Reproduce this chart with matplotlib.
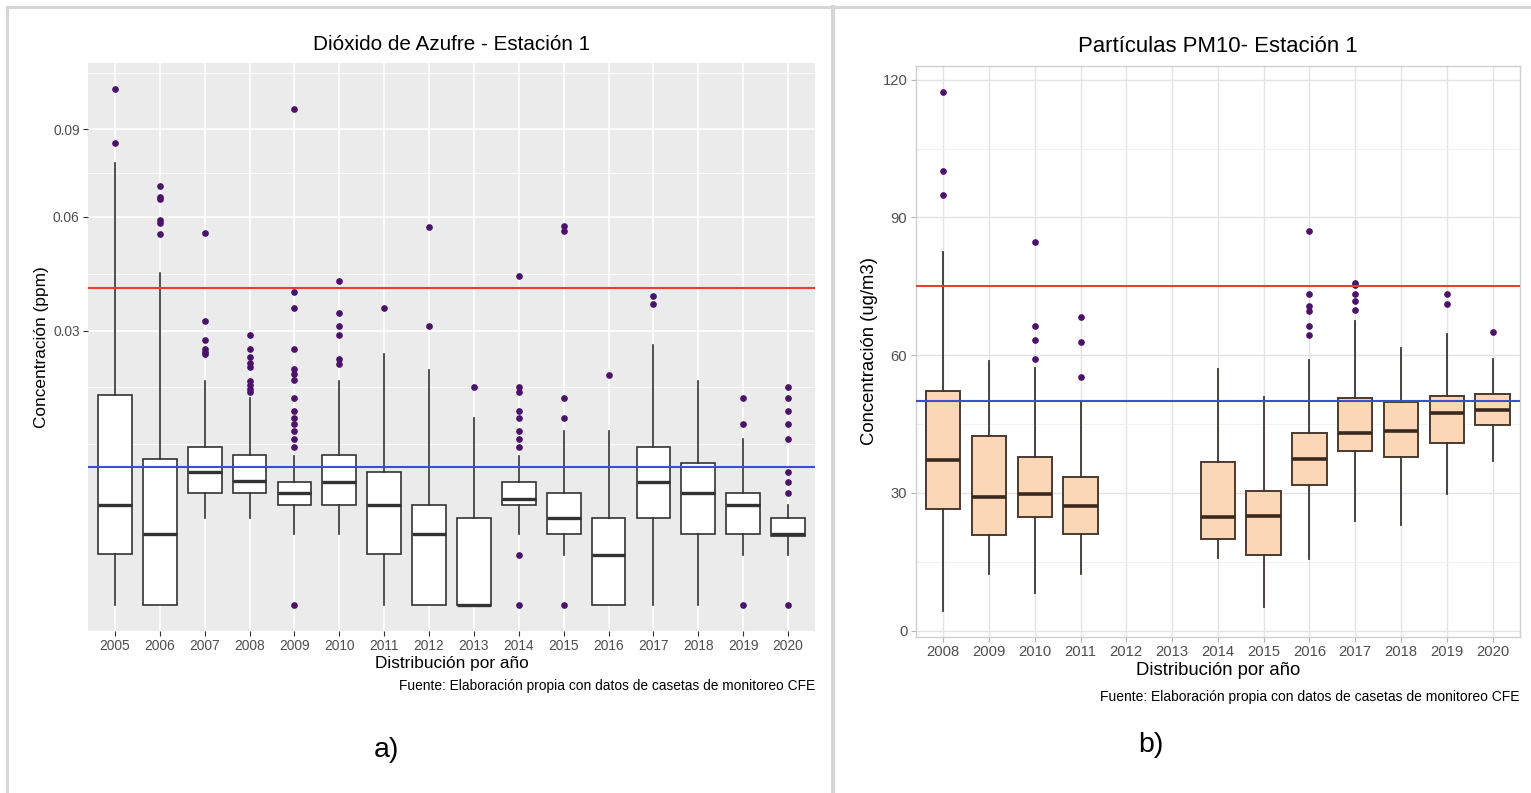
import numpy as np
import matplotlib
matplotlib.use('Agg')
import matplotlib.pyplot as plt
from matplotlib.lines import Line2D

plt.rcParams['font.family'] = ['Liberation Sans', 'DejaVu Sans']

# Dióxido de azufre (ppm) - estación 1
so2_years = ['2005', '2006', '2007', '2008', '2009', '2010', '2011', '2012',
             '2013', '2014', '2015', '2016', '2017', '2018', '2019', '2020']
so2_q1 = [0.00103, 0.0, 0.0050, 0.0050, 0.0040, 0.0040, 0.00103, 0.0,
          0.0, 0.0040, 0.0020, 0.0, 0.0030, 0.0020, 0.0020, 0.0019]
so2_med = [0.0040, 0.0020, 0.0070, 0.0061, 0.0050, 0.0060, 0.0040, 0.0020,
           0.0, 0.0045, 0.0030, 0.0010, 0.0060, 0.0050, 0.0040, 0.0020]
so2_q3 = [0.0175, 0.0085, 0.0100, 0.0090, 0.0060, 0.0090, 0.0070, 0.0040,
          0.0030, 0.0060, 0.0050, 0.0030, 0.0100, 0.0080, 0.0050, 0.0030]
so2_lo = [0.0, 0.0, 0.0030, 0.0030, 0.0020, 0.0020, 0.0, 0.0,
          0.0, 0.0020, 0.0010, 0.0, 0.0, 0.0, 0.0010, 0.0010]
so2_hi = [0.0778, 0.0439, 0.0200, 0.0170, 0.0089, 0.0200, 0.0250, 0.0220,
          0.0139, 0.0089, 0.0120, 0.0120, 0.0270, 0.0200, 0.0110, 0.0040]
so2_out = [
    [0.106, 0.085],
    [0.0700, 0.0664, 0.0657, 0.0591, 0.0582, 0.0549],
    [0.055, 0.032, 0.028, 0.026, 0.0255, 0.025],
    [0.029, 0.026, 0.0244, 0.0234, 0.0225, 0.020, 0.0192, 0.0185, 0.018],
    [0.098, 0.0389, 0.035, 0.026, 0.0221, 0.0212, 0.0201, 0.017, 0.015,
     0.014, 0.0131, 0.012, 0.011, 0.010, 0.0],
    [0.0419, 0.034, 0.031, 0.029, 0.0241, 0.0232],
    [0.035],
    [0.057, 0.031],
    [0.019],
    [0.043, 0.019, 0.018, 0.015, 0.014, 0.012, 0.011, 0.010, 0.001, 0.0],
    [0.0572, 0.0558, 0.017, 0.014, 0.0],
    [0.021],
    [0.038, 0.036],
    [],
    [0.017, 0.013, 0.0],
    [0.019, 0.017, 0.015, 0.013, 0.011, 0.007, 0.006, 0.005, 0.0],
]
so2_limit_red = 0.040
so2_limit_blue = 0.0076
so2_ticks = [0.03, 0.06, 0.09]

# Partículas PM10 (ug/m3) - estación 1
pm_years = ['2008', '2009', '2010', '2011', '2012', '2013', '2014',
            '2015', '2016', '2017', '2018', '2019', '2020']
pm_q1 = [26.6, 20.8, 24.8, 21.1, None, None, 20.0, 16.5, 31.8, 39.1, 37.8, 40.8, 44.7]
pm_med = [37.2, 29.2, 29.8, 27.2, None, None, 24.7, 25.0, 37.3, 43.1, 43.4, 47.4, 48.1]
pm_q3 = [52.3, 42.4, 37.8, 33.4, None, None, 36.7, 30.5, 43.0, 50.7, 49.9, 51.2, 51.5]
pm_lo = [4.4, 12.3, 8.3, 12.3, None, None, 15.8, 5.1, 15.6, 24.0, 23.1, 29.8, 37.0]
pm_hi = [82.5, 58.7, 57.2, 50.1, None, None, 57.0, 51.0, 59.0, 67.4, 61.5, 64.6, 59.1]
pm_out = [
    [117.4, 100.2, 95.0],
    [],
    [84.7, 66.4, 63.3, 59.1],
    [68.4, 62.9, 55.3],
    [], [],
    [],
    [],
    [87.0, 73.4, 70.7, 69.7, 66.3, 64.5],
    [75.8, 75.2, 73.3, 71.9, 69.8],
    [],
    [73.3, 71.2],
    [65.0],
]
pm_limit_red = 75
pm_limit_blue = 50
pm_ticks = [0, 30, 60, 90, 120]

W, H = 1531, 793
fig = plt.figure(figsize=(W / 100, H / 100), dpi=100)
fig.patch.set_facecolor('white')


def px_rect(x0, y0, x1, y1):
    return [x0 / W, 1 - y1 / H, (x1 - x0) / W, (y1 - y0) / H]


# gray frame of the picture and divider between panels
fig.add_artist(Line2D([7 / W, 7 / W], [0, 1 - 7 / H], color='#d6d6d6', lw=2.2))
fig.add_artist(Line2D([7 / W, 1], [1 - 7 / H, 1 - 7 / H], color='#d6d6d6', lw=2.2))
fig.add_artist(Line2D([833 / W, 833 / W], [0, 1 - 7 / H], color='#d6d6d6', lw=3))


def make_stats(q1, med, q3, lo, hi, out):
    stats, pos = [], []
    for i in range(len(q1)):
        if q1[i] is None:
            continue
        stats.append(dict(q1=q1[i], med=med[i], q3=q3[i], whislo=lo[i],
                          whishi=hi[i], fliers=out[i]))
        pos.append(i + 1)
    return stats, pos


# ---------------- a) dióxido de azufre ----------------
ax1 = fig.add_axes(px_rect(88, 63, 815, 631))
fwd = lambda v: np.sign(v) * np.sqrt(np.abs(v))
inv = lambda v: np.sign(v) * v ** 2
ax1.set_yscale('function', functions=(fwd, inv))
ax1.set_facecolor('#ebebeb')

stats, pos = make_stats(so2_q1, so2_med, so2_q3, so2_lo, so2_hi, so2_out)
ax1.bxp(stats, positions=pos, widths=0.75, patch_artist=True, showcaps=False,
        boxprops=dict(facecolor='white', edgecolor='#333333', linewidth=1.2),
        whiskerprops=dict(color='#333333', linewidth=1.2),
        medianprops=dict(color='#333333', linewidth=2.4),
        flierprops=dict(marker='o', markerfacecolor='#4a1268', markeredgecolor='#4a1268',
                        markersize=3.8, linestyle='none'),
        zorder=3)
ax1.axhline(so2_limit_red, color='#f03c30', lw=1.5, zorder=4)
ax1.axhline(so2_limit_blue, color='#3a4fd2', lw=1.5, zorder=4)

ax1.set_xlim(0.4, len(so2_years) + 0.6)
ax1.set_ylim(-0.0163 ** 2, 0.3419 ** 2)
ax1.set_xticks(range(1, len(so2_years) + 1))
ax1.set_xticklabels(so2_years)
ax1.set_yticks(so2_ticks)
ax1.set_yticklabels(['%.2f' % t for t in so2_ticks])
# minor breaks halfway between major breaks in sqrt space
s = np.sqrt(so2_ticks)
step = s[1] - s[0]
s_ext = np.concatenate([[s[0] - step], s, [s[-1] + step]])
minor = (s_ext[:-1] + s_ext[1:]) / 2
minor = np.concatenate([[s[0] - step], minor])
ax1.set_yticks(inv(minor), minor=True)
ax1.tick_params(axis='y', which='minor', length=0)
ax1.grid(True, which='major', color='white', lw=1.2, zorder=0)
ax1.grid(True, which='minor', axis='y', color='white', lw=0.6, zorder=0)
ax1.set_axisbelow(True)
for sp in ax1.spines.values():
    sp.set_visible(False)
ax1.tick_params(axis='both', which='major', colors='#333333', length=3.5, width=0.8,
                labelsize=9.9, labelcolor='#4d4d4d', pad=2.5)
ax1.set_title('Dióxido de Azufre - Estación 1', fontsize=14.9, pad=9)
ax1.set_xlabel('Distribución por año', fontsize=12.4, labelpad=2)
ax1.set_ylabel('Concentración (ppm)', fontsize=12.4, labelpad=3)
fig.text(815 / W, 1 - 686 / H, 'Fuente: Elaboración propia con datos de casetas de monitoreo CFE',
         ha='right', va='center', fontsize=9.9)
fig.text(386 / W, 1 - 750 / H, 'a)', ha='center', va='center', fontsize=20.5)

# ---------------- b) partículas PM10 ----------------
ax2 = fig.add_axes(px_rect(915.7, 65.7, 1520, 636.7))
ax2.set_facecolor('white')
stats, pos = make_stats(pm_q1, pm_med, pm_q3, pm_lo, pm_hi, pm_out)
ax2.bxp(stats, positions=pos, widths=0.75, patch_artist=True, showcaps=False,
        boxprops=dict(facecolor='#fbd6b7', edgecolor='#4b3b30', linewidth=1.4),
        whiskerprops=dict(color='#3d3530', linewidth=1.3),
        medianprops=dict(color='#3a2a1e', linewidth=2.6),
        flierprops=dict(marker='o', markerfacecolor='#4a1268', markeredgecolor='#4a1268',
                        markersize=3.8, linestyle='none'),
        zorder=3)
ax2.axhline(pm_limit_red, color='#f03c30', lw=1.5, zorder=4)
ax2.axhline(pm_limit_blue, color='#3a4fd2', lw=1.5, zorder=4)
ax2.set_xlim(0.4, len(pm_years) + 0.6)
ax2.set_ylim(-1.3, 123.05)
ax2.set_xticks(range(1, len(pm_years) + 1))
ax2.set_xticklabels(pm_years)
ax2.set_yticks(pm_ticks)
ax2.set_yticks([15, 45, 75, 105], minor=True)
ax2.tick_params(axis='y', which='minor', length=0)
ax2.grid(True, which='major', color='#e3e3e3', lw=1.0, zorder=0)
ax2.grid(True, which='minor', axis='y', color='#efefef', lw=0.6, zorder=0)
ax2.set_axisbelow(True)
for sp in ax2.spines.values():
    sp.set_color('#cfcfcf')
    sp.set_linewidth(1.0)
ax2.tick_params(axis='both', which='major', colors='#b3b3b3', length=3.5, width=0.8,
                labelsize=10.6, labelcolor='#4d4d4d', pad=2.5)
ax2.set_title('Partículas PM10- Estación 1', fontsize=15.9, pad=10)
ax2.set_xlabel('Distribución por año', fontsize=13.3, labelpad=2)
ax2.set_ylabel('Concentración (ug/m3)', fontsize=13.3, labelpad=3)
fig.text(1520 / W, 1 - 697 / H, 'Fuente: Elaboración propia con datos de casetas de monitoreo CFE',
         ha='right', va='center', fontsize=10.0)
fig.text(1151 / W, 1 - 745 / H, 'b)', ha='center', va='center', fontsize=20.5)

fig.savefig('out.png', dpi=100, facecolor='white')
